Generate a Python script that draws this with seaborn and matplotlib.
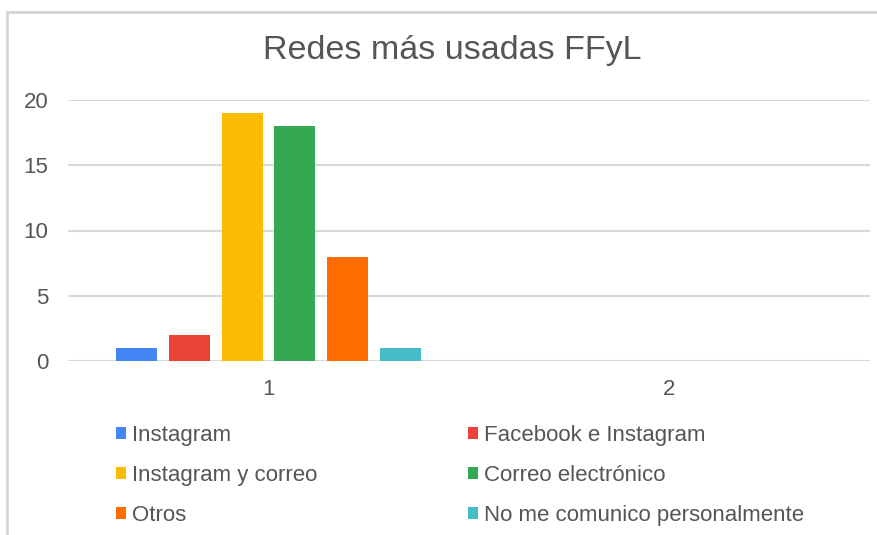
import matplotlib.pyplot as plt
import pandas as pd
import seaborn as sns
from matplotlib.patches import Rectangle

# Chart data
categories = ['1', '2']
series = ['Instagram', 'Facebook e Instagram', 'Instagram y correo',
          'Correo electrónico', 'Otros', 'No me comunico personalmente']
values_1 = [1, 2, 19, 18, 8, 1]
values_2 = [0, 0, 0, 0, 0, 0]
colors = ['#4285F4', '#EA4335', '#FBBC04', '#34A853', '#FF6D01', '#46BDC6']
title = 'Redes más usadas FFyL'

rows = []
for cat, vals in zip(categories, [values_1, values_2]):
    for s, v in zip(series, vals):
        rows.append({'Grupo': cat, 'Red': s, 'Cantidad': v})
df = pd.DataFrame(rows)

sns.set_theme(style='white')
plt.rcParams['font.family'] = ['Liberation Sans', 'DejaVu Sans']

fig = plt.figure(figsize=(8.78, 5.35), dpi=100)
ax = fig.add_axes([68 / 878, 1 - 361 / 535, (870 - 68) / 878, (361 - 100) / 535])

sns.barplot(data=df, x='Grupo', y='Cantidad', hue='Red', hue_order=series,
            order=categories, palette=colors, width=0.79, gap=0.22,
            linewidth=0, saturation=1, ax=ax)

ax.set_ylim(0, 20)
ax.set_yticks([0, 5, 10, 15, 20])
ax.set_xlim(-0.5, 1.5)
ax.grid(axis='y', color='#d9d9d9', linewidth=1.5)
ax.set_axisbelow(True)
for sp in ax.spines.values():
    sp.set_visible(False)
ax.set_xlabel('')
ax.set_ylabel('')
ax.tick_params(axis='both', length=0, labelsize=16, colors='#555555')
ax.tick_params(axis='y', pad=14)
ax.tick_params(axis='x', pad=13)

# Legend laid out row-wise in two columns
handles, labels = ax.get_legend_handles_labels()
order = [0, 2, 4, 1, 3, 5]
ax.legend([handles[i] for i in order], [labels[i] for i in order],
          ncol=2, loc='upper left', bbox_to_anchor=(116 / 878, 1 - 425 / 535),
          bbox_transform=fig.transFigure, frameon=False, fontsize=16,
          handlelength=0.45, handleheight=0.45, handletextpad=0.25,
          labelspacing=0.85, columnspacing=6.8, labelcolor='#555555',
          borderpad=0, borderaxespad=0)

fig.text(452 / 878, 1 - 51 / 535, title, ha='center', va='center',
         fontsize=24.5, color='#555555')

# Light frame around the chart
fig.patches.append(Rectangle((7 / 878, -0.1), 1.0, 1 - 12 / 535 + 0.1,
                             transform=fig.transFigure, fill=False,
                             edgecolor='#d4d4d4', linewidth=2))

fig.savefig('out.png', dpi=100)
